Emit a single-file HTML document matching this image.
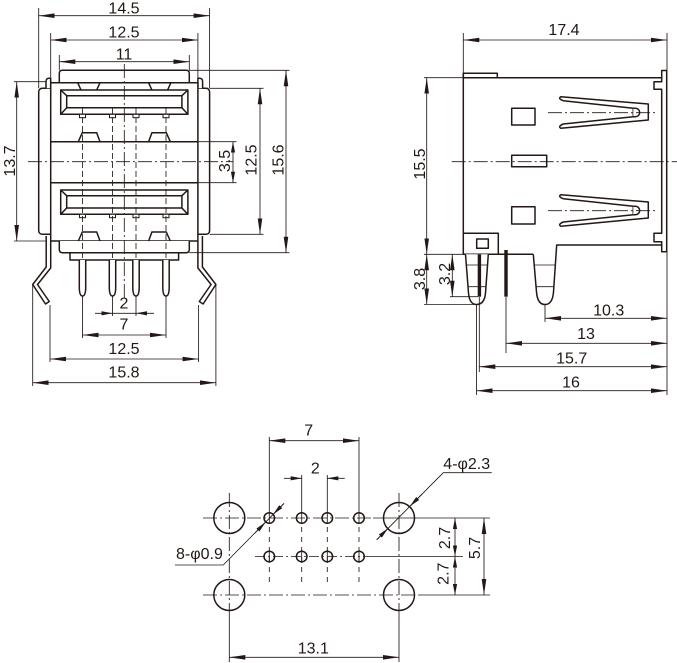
<!DOCTYPE html>
<html><head><meta charset="utf-8"><style>
html,body{margin:0;padding:0;background:#fff;}
svg{display:block;}
text{font-family:"Liberation Sans",Arial,"DejaVu Sans",sans-serif;font-size:16px;fill:#231815;}
</style></head><body>
<svg width="677" height="663" viewBox="0 0 677 663" xmlns="http://www.w3.org/2000/svg">
<defs>
<marker id="a" viewBox="0 0 16 5" refX="16" refY="2.5" markerWidth="16" markerHeight="5" markerUnits="userSpaceOnUse" orient="auto-start-reverse"><path d="M0,0.2 L16,2.5 L0,4.8 Z" fill="#231815"/></marker>
<marker id="b" viewBox="0 0 11 4.4" refX="11" refY="2.2" markerWidth="11" markerHeight="4.4" markerUnits="userSpaceOnUse" orient="auto-start-reverse"><path d="M0,0.1 L11,2.2 L0,4.3 Z" fill="#231815"/></marker>
</defs>
<rect width="677" height="663" fill="#fff"/>

<!-- ================= FRONT VIEW ================= -->
<g fill="#fff" stroke="#231815" stroke-width="1.5" stroke-linejoin="round">
 <path d="M46.2,236 V267 L32.7,284.5 L45.5,304 L49.3,301.5 L37.5,284.5 L50.7,268 V241"/>
 <path d="M202.4,236 V267 L215.9,284.5 L203.1,304 L199.3,301.5 L211.1,284.5 L197.9,268 V241"/>
 <rect x="38.7" y="88.3" width="170.9" height="146" rx="3.5"/>
 <path d="M46,88.3 V81.5 Q46,78.3 49.2,78.3 H50.7 V88.3"/>
 <path d="M202.6,88.3 V81.5 Q202.6,78.3 199.4,78.3 H197.9 V88.3"/>
 <rect x="50.7" y="82.7" width="147.2" height="158.3"/>
 <path d="M59.3,82.7 V73.5 Q59.3,70.3 62.5,70.3 H186.1 Q189.3,70.3 189.3,73.5 V82.7 Z"/>
 <path d="M59.3,241 V249.5 Q59.3,252.7 62.5,252.7 H186.1 Q189.3,252.7 189.3,249.5 V241"/>
 <rect x="70" y="252.7" width="108.6" height="7.3"/>
 <!-- upper port -->
 <rect x="60.7" y="90" width="127.2" height="24.3"/>
 <rect x="66.7" y="95.7" width="115.2" height="12"/>
 <path d="M60.7,90 L66.7,95.7 M187.9,90 L181.9,95.7 M60.7,114.3 L66.7,107.7 M187.9,114.3 L181.9,107.7" fill="none"/>
 <!-- lower port -->
 <rect x="60.7" y="190" width="127.2" height="24.3"/>
 <rect x="66.7" y="195.7" width="115.2" height="12.3"/>
 <path d="M60.7,190 L66.7,195.7 M187.9,190 L181.9,195.7 M60.7,214.3 L66.7,208 M187.9,214.3 L181.9,208" fill="none"/>
 <!-- notches -->
 <path d="M77.7,82.7 L81,90 M100,82.7 L96.7,90 M148.6,82.7 L151.9,90 M170.9,82.7 L167.6,90" fill="none"/>
 <!-- bumps -->
 <path d="M78.3,141.7 L82.3,132.7 H96.7 L100,141.7 M148.6,141.7 L151.9,132.7 H166.3 L170.3,141.7" fill="none"/>
 <path d="M78.3,241 L82.3,232 H96.7 L100,241 M148.6,241 L151.9,232 H166.3 L170.3,241" fill="none"/>
 <!-- middle band -->
 <path d="M50.7,141.7 H197.9 M50.7,182.7 H197.9" fill="none"/>
 <!-- pins -->
 <path d="M79.3,260 V287 Q79.3,296 82.5,296 Q85.7,296 85.7,287 V260"/>
 <path d="M109.3,260 V287 Q109.3,296 112.5,296 Q115.7,296 115.7,287 V260"/>
 <path d="M132.8,260 V287 Q132.8,296 136,296 Q139.2,296 139.2,287 V260"/>
 <path d="M162.8,260 V287 Q162.8,296 166,296 Q169.2,296 169.2,287 V260"/>
</g>
<g fill="#fff" stroke="#231815" stroke-width="1">
 <rect x="79.5" y="114.3" width="6" height="3.4"/><rect x="109.5" y="114.3" width="6" height="3.4"/>
 <rect x="133" y="114.3" width="6" height="3.4"/><rect x="163" y="114.3" width="6" height="3.4"/>
 <rect x="79.5" y="214.3" width="6" height="3.4"/><rect x="109.5" y="214.3" width="6" height="3.4"/>
 <rect x="133" y="214.3" width="6" height="3.4"/><rect x="163" y="214.3" width="6" height="3.4"/>
</g>
<!-- front view center lines -->
<g fill="none" stroke="#231815" stroke-width="0.85">
 <path d="M28,161.7 H233 M124.3,64 V300" stroke-dasharray="14 3 2 3"/>
 <path d="M82.5,108 V258 M112.5,108 V258 M136,108 V258 M166,108 V258" stroke-dasharray="6 3"/>
 <!-- extension lines -->
 <path d="M82.5,296 V338 M166,296 V338 M112.5,296 V316 M136,296 V316"/>
 <path d="M50,305 V362 M198.6,305 V362 M32.7,285 V386 M215.9,285 V386"/>
 <path d="M38.7,8 V88.3 M209.6,8 V88.3 M50.7,33 V78.3 M197.9,33 V78.3 M59.3,55 V70.3 M189.3,55 V70.3"/>
 <path d="M14,81.7 H46 M14,241 H46"/>
 <path d="M189.3,70.3 H289.5 M189.3,252.7 H289.5 M209.6,88.3 H263.5 M209.6,234.3 H263.5 M197.9,141.7 H236.5 M197.9,182.7 H236.5"/>
 <!-- dimension lines -->
 <path d="M38.7,15.7 H209.6" marker-start="url(#a)" marker-end="url(#a)"/>
 <path d="M50.7,40 H197.9" marker-start="url(#a)" marker-end="url(#a)"/>
 <path d="M59.3,61.7 H189.3" marker-start="url(#a)" marker-end="url(#a)"/>
 <path d="M16.7,81.7 V241" marker-start="url(#a)" marker-end="url(#a)"/>
 <path d="M286,70.3 V252.7" marker-start="url(#a)" marker-end="url(#a)"/>
 <path d="M260,88.3 V234.3" marker-start="url(#a)" marker-end="url(#a)"/>
 <path d="M233,141.7 V182.7" marker-start="url(#b)" marker-end="url(#b)"/>
 <path d="M95,313.3 H112.5" marker-end="url(#b)"/>
 <path d="M154,313.3 H136" marker-end="url(#b)"/>
 <path d="M112.5,313.3 H136"/>
 <path d="M82.5,335 H166" marker-start="url(#a)" marker-end="url(#a)"/>
 <path d="M50,359 H198.6" marker-start="url(#a)" marker-end="url(#a)"/>
 <path d="M32.7,382.7 H215.9" marker-start="url(#a)" marker-end="url(#a)"/>
</g>
<g text-anchor="middle">
 <text x="124" y="13.3">14.5</text>
 <text x="124" y="37.7">12.5</text>
 <text x="124" y="59.3">11</text>
 <text x="124" y="308.3">2</text>
 <text x="124" y="329.3">7</text>
 <text x="124" y="354">12.5</text>
 <text x="124" y="377.7">15.8</text>
 <text transform="translate(15,161) rotate(-90)">13.7</text>
 <text transform="translate(230,161) rotate(-90)">3.5</text>
 <text transform="translate(256.7,160) rotate(-90)">12.5</text>
 <text transform="translate(283.3,160) rotate(-90)">15.6</text>
</g>

<!-- ================= SIDE VIEW ================= -->
<g fill="#fff" stroke="#231815" stroke-width="1.5" stroke-linejoin="round">
 <rect x="463.3" y="73.3" width="34" height="4.4"/>
 <path d="M463.3,77.7 H661.7" fill="none"/>
 <path d="M463.3,73.3 V254.3 H533.3" fill="none"/>
 <path d="M463.3,233.3 H498.3 V254.3" fill="none"/>
 <rect x="476.7" y="239" width="11.6" height="9.3"/>
 <path d="M465.5,254.3 L468.5,293 Q469.5,304.5 476.5,304.5 Q484.5,304.5 485.5,293 L488.3,254.3"/>
 <path d="M533.3,254.3 L536.5,292 Q537.5,304.5 545,304.5 Q552.5,304.5 553.5,292 L556.7,245 H661.7" />
 <path d="M661.7,70.5 H666.7 V251.7 H661.7 V241.7 H654 V233.3 H661.7 V89.3 H654 V81.7 H661.7 Z"/>
 <rect x="511.7" y="108.3" width="23.3" height="16.7"/>
 <rect x="511.7" y="155.3" width="35" height="11.4"/>
 <rect x="511.7" y="206.7" width="23.3" height="17.3"/>
 <!-- upper spring -->
 <path d="M561,96.7 L648.3,104 V120 L561,128.3 Q557.5,126.5 563.3,124 L633.3,116.7 V108.3 L563.3,100.7 Q557.5,98.5 561,96.7 Z"/>
 <path d="M633.3,108.3 H635.5 A4.2,4.2 0 0 1 635.5,116.7 H633.3"/>
 <!-- lower spring -->
 <path d="M561,194.7 L648.3,202 V218 L561,226.3 Q557.5,224.5 563.3,222 L633.3,214.7 V206.3 L563.3,198.7 Q557.5,196.5 561,194.7 Z"/>
 <path d="M633.3,206.3 H635.5 A4.2,4.2 0 0 1 635.5,214.7 H633.3"/>
</g>
<g fill="#231815" stroke="none">
 <rect x="477.7" y="254.3" width="3.4" height="42.4"/>
 <rect x="504.3" y="250" width="3.4" height="46.7"/>
</g>
<g fill="none" stroke="#231815" stroke-width="0.85">
 <path d="M466.3,265 H487.5 M468,286.7 H486 M534.2,265 H555.8 M535.8,286.7 H554.2"/>
 <path d="M451.7,161.7 H677 M548,112.7 H657 M548,210.7 H657" stroke-dasharray="14 3 2 3"/>
 <!-- extension lines -->
 <path d="M463.3,33 V73.3 M667,33 V70.5 M667,251.7 V395"/>
 <path d="M424,77.7 H463.3 M424,254.3 H463.3 M424,304.5 H476.5 M450,296.7 H478"/>
 <path d="M545,305 V322 M506,297 V353 M479.3,297 V372 M476.5,305 V395"/>
 <!-- dims -->
 <path d="M463.3,40 H667" marker-start="url(#a)" marker-end="url(#a)"/>
 <path d="M426.7,77.7 V254.3" marker-start="url(#a)" marker-end="url(#a)"/>
 <path d="M426.7,254.3 V304.5" marker-start="url(#a)" marker-end="url(#a)"/>
 <path d="M452.3,254.3 V296.7" marker-start="url(#a)" marker-end="url(#a)"/>
 <path d="M545,318.3 H667" marker-start="url(#a)" marker-end="url(#a)"/>
 <path d="M506,343.3 H667" marker-start="url(#a)" marker-end="url(#a)"/>
 <path d="M479.3,366.7 H667" marker-start="url(#a)" marker-end="url(#a)"/>
 <path d="M476.5,390.7 H667" marker-start="url(#a)" marker-end="url(#a)"/>
</g>
<g text-anchor="middle">
 <text x="564" y="35">17.4</text>
 <text transform="translate(425,164) rotate(-90)">15.5</text>
 <text transform="translate(425,279) rotate(-90)">3.8</text>
 <text transform="translate(450,274) rotate(-90)">3.2</text>
 <text x="608.7" y="315.7">10.3</text>
 <text x="586" y="339">13</text>
 <text x="571.7" y="363.3">15.7</text>
 <text x="571" y="387.7">16</text>
</g>

<!-- ================= FOOTPRINT ================= -->
<g fill="none" stroke="#231815" stroke-width="0.85">
 <path d="M229.3,493 V612 M399,493 V612" stroke-dasharray="14 3 2 3"/>
 <path d="M229.3,612 V662 M399,612 V662"/>
 <path d="M203,518 H373" stroke-dasharray="14 3 2 3"/>
 <path d="M373,518 H490"/>
 <path d="M255,556.5 H365" stroke-dasharray="10 3 2 3"/>
 <path d="M365,556.5 H463"/>
 <path d="M203,595 H420" stroke-dasharray="14 3 2 3"/>
 <path d="M420,595 H490"/>
 <path d="M269.3,437 V524 M359,437 V524 M301.7,475 V524 M327.3,475 V524"/>
 <path d="M269.3,527 V583 M359,527 V583 M301.7,527 V583 M327.3,527 V583" stroke-dasharray="5 5"/>
 <path d="M269.3,550 V563 M359,550 V563 M301.7,550 V563 M327.3,550 V563"/>
 <path d="M269.3,440.7 H359" marker-start="url(#a)" marker-end="url(#a)"/>
 <path d="M284,478.3 H301.7" marker-end="url(#b)"/>
 <path d="M344.7,478.3 H327.3" marker-end="url(#b)"/>
 <path d="M229.3,657.3 H399" marker-start="url(#a)" marker-end="url(#a)"/>
 <path d="M455,518 V556.5" marker-start="url(#b)" marker-end="url(#b)"/>
 <path d="M455,556.5 V595" marker-start="url(#b)" marker-end="url(#b)"/>
 <path d="M484,518 V595" marker-start="url(#a)" marker-end="url(#a)"/>
 <path d="M175,565 H223.3 L284,503.4"/>
 <path d="M255,533 L265.6,522.1" marker-end="url(#b)"/>
 <path d="M284,503.4 L273,514.5" marker-end="url(#b)"/>
 <path d="M491.7,472.7 H443.3 L376.7,539.8"/>
 <path d="M422,494.2 L409.9,506.3" marker-end="url(#b)"/>
 <path d="M376.7,539.8 L388.1,528.3" marker-end="url(#b)"/>
</g>
<g fill="none" stroke="#231815" stroke-width="1.5">
 <circle cx="229.3" cy="518" r="15.5"/>
 <circle cx="229.3" cy="595" r="15.5"/>
 <circle cx="399" cy="518" r="15.5"/>
 <circle cx="399" cy="595" r="15.5"/>
 <circle cx="269.3" cy="518" r="5.3"/>
 <circle cx="301.7" cy="518" r="5.3"/>
 <circle cx="327.3" cy="518" r="5.3"/>
 <circle cx="359" cy="518" r="5.3"/>
 <circle cx="269.3" cy="556.5" r="5.3"/>
 <circle cx="301.7" cy="556.5" r="5.3"/>
 <circle cx="327.3" cy="556.5" r="5.3"/>
 <circle cx="359" cy="556.5" r="5.3"/>
</g>
<g text-anchor="middle">
 <text x="308.7" y="435.7">7</text>
 <text x="315.3" y="473.3">2</text>
 <text x="313.3" y="653.3">13.1</text>
 <text transform="translate(450,538) rotate(-90)">2.7</text>
 <text transform="translate(448.3,573.7) rotate(-90)">2.7</text>
 <text transform="translate(480,548) rotate(-90)">5.7</text>
</g>
<text x="176" y="559">8-φ0.9</text>
<text x="443.3" y="469">4-φ2.3</text>
</svg>
</body></html>
